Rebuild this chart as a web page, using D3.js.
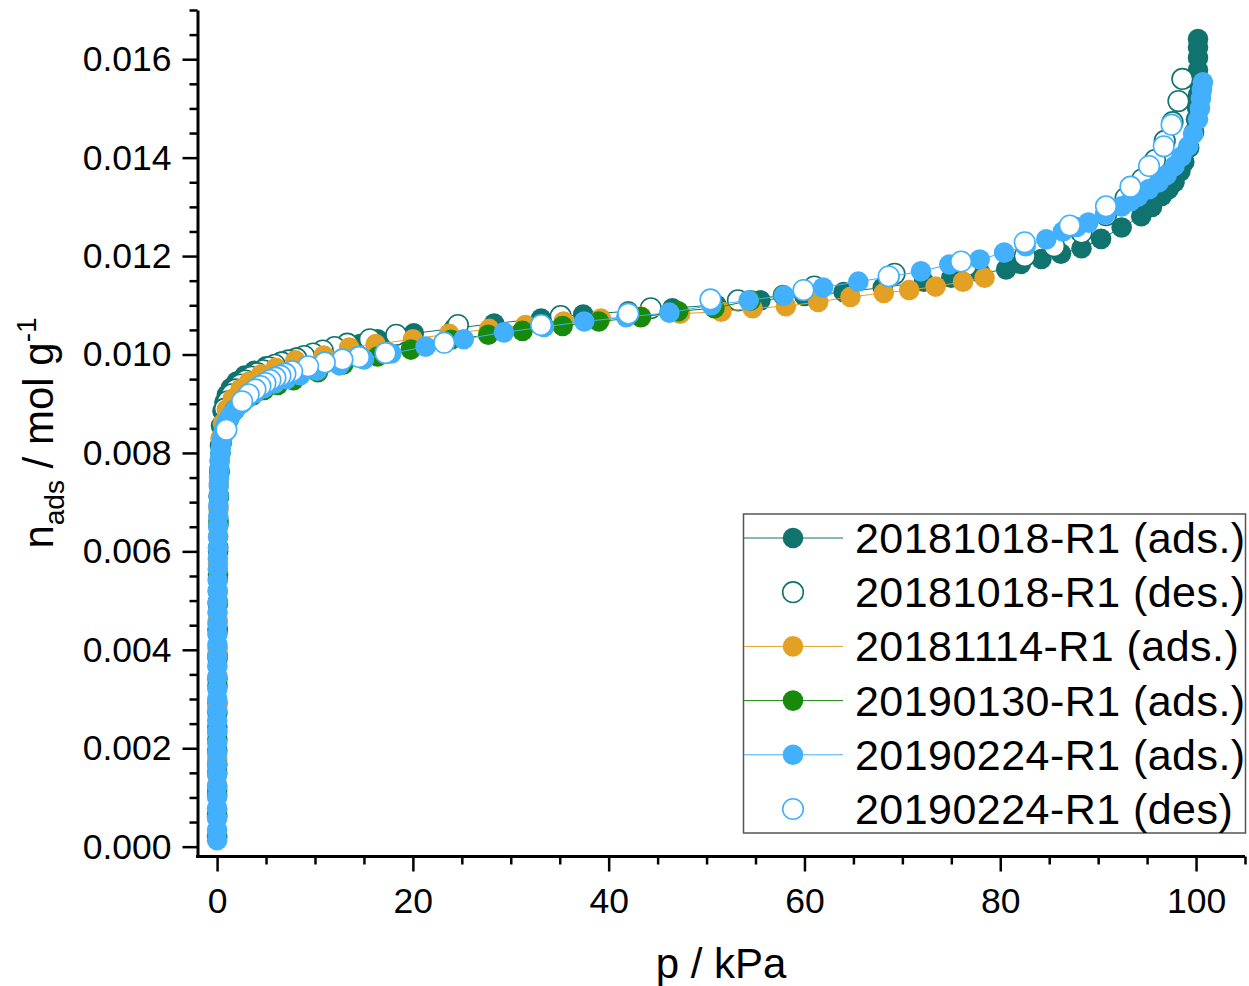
<!DOCTYPE html>
<html>
<head>
<meta charset="utf-8">
<script src="https://cdn.jsdelivr.net/npm/d3@7"></script>
<style>
  body { margin: 0; background: #fff; }
  svg { display: block; }
  text { font-family: Arial, "Liberation Sans", Helvetica, sans-serif; fill: #000; }
</style>
</head>
<body>
<svg id="chart" width="1249" height="986"></svg>
<script>
// ---- Isotherm data: pressure p (kPa) and uptake n (mol/g) ----

// 20181018-R1 adsorption
const tealAdsP = [0.004, 0.008, 0.012, 0.017, 0.022, 0.028, 0.035, 0.043, 0.052, 0.063, 0.076, 0.092, 0.11, 0.14, 0.18, 0.23, 0.30,
  0.40, 0.55, 0.75, 1.0, 1.4, 2.0, 2.8, 3.8, 5.0, 6.5, 8.2, 10.2, 12.4, 14.6, 16.4, 20.1, 24.2, 28.3, 33.1, 37.4,
  42.0, 46.5, 51.0, 55.5, 60.0, 64.0, 68.0, 72.2, 75.0, 78.0, 80.6, 82.1, 84.2, 86.2, 88.3, 90.3, 92.4, 94.4,
  95.5, 96.5, 97.2, 97.8, 98.4, 98.8, 99.3, 99.8, 100.0, 100.1, 100.2, 100.2, 100.2, 100.2, 100.2, 100.2];
const tealAdsN = [0.00020, 0.00062, 0.00105, 0.00150, 0.00196, 0.00243, 0.00291, 0.00340, 0.00390, 0.00441, 0.00493, 0.00546, 0.00600, 0.00655, 0.00710, 0.00765, 0.00815,
  0.00855, 0.00885, 0.00903, 0.00918, 0.00932, 0.00945, 0.00957, 0.00967, 0.00976, 0.00985, 0.00994, 0.01003, 0.01012, 0.01021, 0.01031, 0.01043, 0.01053, 0.01063, 0.01073, 0.01081,
  0.01088, 0.01094, 0.01101, 0.01110, 0.01119, 0.01127, 0.01136, 0.01148, 0.01156, 0.01165, 0.01173, 0.01184, 0.01194, 0.01205, 0.01216, 0.01235, 0.01258, 0.01281,
  0.01300, 0.01322, 0.01336, 0.01350, 0.01372, 0.01391, 0.01420, 0.01452, 0.01478, 0.01502, 0.01527, 0.01553, 0.01578, 0.01603, 0.01624, 0.01641];

// 20181018-R1 desorption
const tealDesP = [98.6, 98.2, 97.6, 96.8, 95.8, 94.5, 92.8, 90.8, 88.3, 85.5, 82.5, 76.5, 69.2, 61.0, 53.2, 44.3, 35.1, 24.6, 18.3, 15.6,
  13.3, 12.0, 10.8, 9.8, 8.9, 8.1, 7.3, 6.6, 5.9, 5.3, 4.7, 4.1, 3.5, 2.9, 2.4, 1.9, 1.5, 1.1, 0.8];
const tealDesN = [0.01560, 0.01515, 0.01472, 0.01434, 0.01395, 0.01356, 0.01318, 0.01283, 0.01248, 0.01220, 0.01200, 0.01180, 0.01164, 0.01138, 0.01110, 0.01094, 0.01078, 0.01060, 0.01040, 0.01031,
  0.01022, 0.01015, 0.01008, 0.01002, 0.00997, 0.00992, 0.00988, 0.00984, 0.00979, 0.00974, 0.00968, 0.00962, 0.00955, 0.00947, 0.00939, 0.00929, 0.00919, 0.00905, 0.00890];

// 20181114-R1 adsorption
const orangeAdsP = [0.005, 0.010, 0.015, 0.021, 0.028, 0.036, 0.045, 0.056, 0.068, 0.082, 0.10, 0.12, 0.15, 0.19, 0.25,
  0.35, 0.6, 1.0, 1.6, 2.4, 3.3, 4.5, 6.0, 8.0, 10.9, 13.5, 16.2, 20.0, 23.7, 27.8, 31.5, 35.4, 39.2, 43.3, 47.3,
  51.5, 54.7, 58.1, 61.4, 64.7, 68.1, 70.7, 73.4, 76.2, 78.4];
const orangeAdsN = [0.00025, 0.00075, 0.00125, 0.00178, 0.00232, 0.00288, 0.00345, 0.00402, 0.00460, 0.00518, 0.00575, 0.00630, 0.00685, 0.00738, 0.00785,
  0.00830, 0.00860, 0.00888, 0.00910, 0.00930, 0.00945, 0.00960, 0.00973, 0.00988, 0.00998, 0.01014, 0.01021, 0.01031, 0.01042, 0.01052, 0.01060, 0.01067, 0.01073, 0.01077, 0.01083,
  0.01087, 0.01094, 0.01098, 0.01107, 0.01117, 0.01125, 0.01131, 0.01138, 0.01148, 0.01156];

// 20190130-R1 adsorption
const greenAdsP = [0.004, 0.009, 0.014, 0.020, 0.027, 0.035, 0.044, 0.055, 0.067, 0.081, 0.098, 0.12, 0.15, 0.19, 0.25,
  0.35, 0.5, 0.8, 1.2, 1.8, 2.6, 3.6, 4.8, 6.2, 7.8, 10.3, 12.9, 16.4, 19.8, 23.9, 27.7, 31.2, 35.3, 39.0, 43.3,
  47.1, 50.8, 54.5, 57.8];
const greenAdsN = [0.00018, 0.00066, 0.00115, 0.00166, 0.00218, 0.00272, 0.00327, 0.00383, 0.00440, 0.00497, 0.00553, 0.00608, 0.00662, 0.00713, 0.00760,
  0.00800, 0.00822, 0.00848, 0.00868, 0.00887, 0.00903, 0.00917, 0.00928, 0.00938, 0.00948, 0.00964, 0.00980, 0.00996, 0.01010, 0.01030, 0.01040, 0.01048, 0.01058, 0.01067, 0.01076,
  0.01088, 0.01094, 0.01110, 0.01121];

// 20190224-R1 adsorption
const blueAdsP = [0.001, 0.002, 0.003, 0.004, 0.005, 0.006, 0.008, 0.009, 0.011, 0.012, 0.014, 0.016, 0.018, 0.020, 0.023,
  0.025, 0.028, 0.031, 0.034, 0.038, 0.042, 0.046, 0.051, 0.057, 0.063, 0.070, 0.078, 0.087, 0.097, 0.108,
  0.121, 0.136, 0.153, 0.174, 0.20, 0.23, 0.27, 0.32, 0.38, 0.46, 0.56, 0.68,
  0.85, 1.1, 1.4, 1.8, 2.4, 3.1, 3.9, 4.8, 5.9, 7.1, 8.5, 10.2, 12.5, 15.0, 17.8, 21.3, 25.2, 29.3, 33.4, 37.5,
  41.8, 46.2, 50.5, 54.3, 57.9, 61.9, 65.5, 68.7, 71.9, 74.8, 77.9, 80.4, 82.6, 84.7, 86.4, 87.8, 89.0, 90.7,
  92.4, 93.3, 94.1, 95.2, 96.2, 97.0, 97.8, 98.5, 99.2, 99.7, 100.2, 100.4, 100.5, 100.6, 100.7];
const blueAdsN = [0.00013, 0.00034, 0.00057, 0.00078, 0.00101, 0.00122, 0.00146, 0.00167, 0.00190, 0.00211, 0.00234, 0.00256, 0.00277, 0.00300, 0.00321,
  0.00344, 0.00366, 0.00387, 0.00410, 0.00432, 0.00453, 0.00476, 0.00497, 0.00520, 0.00541, 0.00564, 0.00586, 0.00607, 0.00629, 0.00650,
  0.00672, 0.00693, 0.00713, 0.00733, 0.00751, 0.00768, 0.00783, 0.00797, 0.00810, 0.00822, 0.00834, 0.00845,
  0.00856, 0.00866, 0.00876, 0.00887, 0.00899, 0.00911, 0.00922, 0.00932, 0.00941, 0.00950, 0.00958, 0.00967, 0.00978, 0.00990, 0.01002, 0.01016, 0.01031, 0.01045, 0.01056, 0.01067,
  0.01076, 0.01085, 0.01100, 0.01110, 0.01120, 0.01136, 0.01148, 0.01158, 0.01169, 0.01183, 0.01193, 0.01207, 0.01220, 0.01234, 0.01250, 0.01259, 0.01268, 0.01284,
  0.01301, 0.01311, 0.01321, 0.01336, 0.01350, 0.01365, 0.01383, 0.01402, 0.01423, 0.01448, 0.01478, 0.01500, 0.01520, 0.01538, 0.01553];

// 20190224-R1 desorption
const blueDesP = [97.5, 96.7, 95.2, 93.3, 90.8, 87.1, 82.5, 76.0, 68.6, 59.9, 50.4, 42.0, 33.1, 23.2, 17.2,
  14.5, 12.8, 11.0, 9.3, 7.67, 6.98, 6.47, 5.96, 5.45, 4.94, 4.43, 3.92, 3.23, 2.56, 0.95];
const blueDesN = [0.01467, 0.01423, 0.01383, 0.01341, 0.01301, 0.01262, 0.01228, 0.01189, 0.01159, 0.01131, 0.01112, 0.01083, 0.01060, 0.01024, 0.01003,
  0.00995, 0.00990, 0.00984, 0.00976, 0.00966, 0.00961, 0.00957, 0.00953, 0.00948, 0.00942, 0.00936, 0.00929, 0.00919, 0.00905, 0.00847];

// Legend labels and axis ticks
const seriesLabels = ["20181018-R1 (ads.)", "20181018-R1 (des.)", "20181114-R1 (ads.)",
                      "20190130-R1 (ads.)", "20190224-R1 (ads.)", "20190224-R1 (des)"];
const xTickValues = [0, 20, 40, 60, 80, 100];
const yTickValues = [0, 0.002, 0.004, 0.006, 0.008, 0.010, 0.012, 0.014, 0.016];

// ---- Layout ----
const svg = d3.select("#chart");
const x = d3.scaleLinear().domain([-2, 105]).range([197.5, 1245]);
const y = d3.scaleLinear().domain([-0.0002, 0.017]).range([856.5, 10]);

const series = [
  { p: tealAdsP,   n: tealAdsN,   color: "#10736e", open: false, line: true },
  { p: tealDesP,   n: tealDesN,   color: "#10736e", open: true,  line: false },
  { p: orangeAdsP, n: orangeAdsN, color: "#e2a024", open: false, line: true },
  { p: greenAdsP,  n: greenAdsN,  color: "#178a0c", open: false, line: true },
  { p: blueAdsP,   n: blueAdsN,   color: "#42b0fc", open: false, line: true },
  { p: blueDesP,   n: blueDesN,   color: "#42b0fc", open: true,  line: false }
];
const R = 10.3;

// ---- Data: each series draws its line, then its symbols ----
const plot = svg.append("g");
const line = d3.line().x(d => x(d[0])).y(d => y(d[1]));
series.forEach(s => {
  const pts = s.p.map((p, i) => [p, s.n[i]]);
  const g = plot.append("g");
  if (s.line) {
    g.append("path").datum(pts).attr("d", line)
      .attr("fill", "none").attr("stroke", s.color).attr("stroke-width", 1);
  }
  g.selectAll("circle").data(pts).join("circle")
    .attr("cx", d => x(d[0])).attr("cy", d => y(d[1])).attr("r", R)
    .attr("fill", s.open ? "#fff" : s.color)
    .attr("stroke", s.open ? s.color : "none")
    .attr("stroke-width", 1.6);
});

// ---- Axes ----
const yMinor = d3.range(0, 0.01701, 0.0005).filter(v => !yTickValues.some(t => Math.abs(t - v) < 1e-9));
const xMinor = d3.range(0, 105.01, 5).filter(v => !xTickValues.includes(v));

const yAxisG = svg.append("g").attr("transform", "translate(197.5,0)");
yAxisG.call(d3.axisLeft(y).tickValues(yTickValues).tickFormat(d3.format(".3f"))
  .tickSize(15).tickSizeOuter(0).tickPadding(11));
yAxisG.append("g").call(d3.axisLeft(y).tickValues(yMinor).tickFormat("").tickSize(8).tickSizeOuter(0))
  .select(".domain").remove();

const xAxisG = svg.append("g").attr("transform", "translate(0,856.5)");
xAxisG.call(d3.axisBottom(x).tickValues(xTickValues).tickFormat(d3.format("d"))
  .tickSize(15).tickSizeOuter(0).tickPadding(16));
xAxisG.append("g").call(d3.axisBottom(x).tickValues(xMinor).tickFormat("").tickSize(8).tickSizeOuter(0))
  .select(".domain").remove();

svg.selectAll(".domain").attr("stroke", "#000").attr("stroke-width", 3);
svg.selectAll(".tick line").attr("stroke", "#000").attr("stroke-width", 2.5);
svg.selectAll(".tick text").style("font-size", "35.5px").attr("fill", "#000")
  .style("font-family", 'Arial, "Liberation Sans", sans-serif');
// extend the x axis line under the y axis corner
xAxisG.select(".domain").attr("d", "M196,0H1245");

// ---- Axis titles ----
svg.append("text").attr("x", 721).attr("y", 978).attr("text-anchor", "middle")
  .style("font-size", "42px").text("p / kPa");

const yt = svg.append("text").attr("transform", "translate(53,433) rotate(-90)")
  .attr("text-anchor", "middle").style("font-size", "42px");
yt.append("tspan").text("n");
yt.append("tspan").attr("dy", 11).style("font-size", "28px").text("ads");
yt.append("tspan").attr("dy", -11).text(" / mol g");
yt.append("tspan").attr("dy", -17).style("font-size", "28px").text("-1");

// ---- Legend ----
const lg = svg.append("g");
lg.append("rect").attr("x", 743.5).attr("y", 514).attr("width", 502).attr("height", 319)
  .attr("fill", "#fff").attr("stroke", "#555").attr("stroke-width", 1.5);
const rowY = d3.scaleLinear().domain([0, 5]).range([538, 809]);
series.forEach((s, i) => {
  const cy = rowY(i);
  if (s.line) {
    lg.append("line").attr("x1", 744).attr("x2", 843).attr("y1", cy).attr("y2", cy)
      .attr("stroke", s.color).attr("stroke-width", 1);
  }
  lg.append("circle").attr("cx", 793).attr("cy", cy).attr("r", R)
    .attr("fill", s.open ? "#fff" : s.color)
    .attr("stroke", s.open ? s.color : "none").attr("stroke-width", 1.6);
  lg.append("text").attr("x", 855).attr("y", cy).attr("dy", "0.35em")
    .style("font-size", "43px").style("letter-spacing", "0.45px").text(seriesLabels[i]);
});
</script>
</body>
</html>
